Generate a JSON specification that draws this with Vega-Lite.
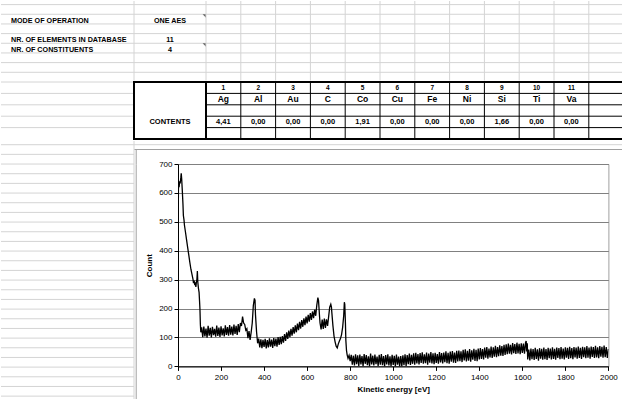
{
  "$schema": "https://vega.github.io/schema/vega-lite/v6.json",
  "padding": 0,
  "background": "white",
  "config": {
    "view": {"stroke": null},
    "font": "Liberation Sans",
    "locale": {"number": {"decimal": ",", "thousands": ".", "grouping": [3], "currency": ["", " €"]}}
  },
  "datasets": {
    "settings": [
      {"row": 2, "labelCol": "A", "valueCol": "B", "label": "MODE OF OPERATION", "value": "ONE AES", "note": true},
      {"row": 4, "labelCol": "A", "valueCol": "B", "label": "NR. OF ELEMENTS IN DATABASE", "value": "11", "note": false},
      {"row": 5, "labelCol": "A", "valueCol": "B", "label": "NR. OF CONSTITUENTS", "value": "4", "note": true}
    ],
    "sheetRows": [
      {"b": 0}, {"b": 1}, {"b": 2}, {"b": 3}, {"b": 4}, {"b": 5}, {"b": 6}, {"b": 7}, {"b": 8}, {"b": 9},
      {"b": 10}, {"b": 11}, {"b": 12}, {"b": 13}, {"b": 14}, {"b": 15}, {"b": 16}, {"b": 17}, {"b": 18}, {"b": 19},
      {"b": 20}, {"b": 21}, {"b": 22}, {"b": 23}, {"b": 24}, {"b": 25}, {"b": 26}
    ],
    "tableRows": [{"r": "num"}, {"r": "sym"}, {"r": "gap1"}, {"r": "val"}, {"r": "gap2"}],
    "columns": [{"k": 1}, {"k": 2}, {"k": 3}, {"k": 4}, {"k": 5}, {"k": 6}, {"k": 7}, {"k": 8}, {"k": 9}, {"k": 10}, {"k": 11}, {"k": 12}],
    "elements": [
      {"n": 1, "sym": "Ag", "v": 4.41},
      {"n": 2, "sym": "Al", "v": 0},
      {"n": 3, "sym": "Au", "v": 0},
      {"n": 4, "sym": "C", "v": 0},
      {"n": 5, "sym": "Co", "v": 1.91},
      {"n": 6, "sym": "Cu", "v": 0},
      {"n": 7, "sym": "Fe", "v": 0},
      {"n": 8, "sym": "Ni", "v": 0},
      {"n": 9, "sym": "Si", "v": 1.66},
      {"n": 10, "sym": "Ti", "v": 0},
      {"n": 11, "sym": "Va", "v": 0}
    ],
    "spectrum": [
      {"e":0,"c":178},{"e":1,"c":455},{"e":2,"c":612},{"e":3,"c":628},{"e":5,"c":620},{"e":8,"c":640},{"e":10,"c":633},{"e":13,"c":652},{"e":15,"c":668},{"e":17,"c":650},
      {"e":20,"c":608},{"e":23,"c":562},{"e":25,"c":522},{"e":28,"c":506},{"e":30,"c":488},{"e":35,"c":463},{"e":40,"c":437},{"e":45,"c":411},{"e":50,"c":386},{"e":55,"c":360},
      {"e":60,"c":336},{"e":65,"c":318},{"e":70,"c":300},{"e":72,"c":288},{"e":75,"c":297},{"e":78,"c":281},{"e":80,"c":291},{"e":83,"c":275},{"e":85,"c":289},{"e":88,"c":302},
      {"e":90,"c":330},{"e":92,"c":292},{"e":95,"c":270},{"e":98,"c":256},{"e":100,"c":228},{"e":102,"c":198},{"e":104,"c":145},{"e":106,"c":118},
      {"e":110,"c":135},{"e":115,"c":101},{"e":120,"c":138},{"e":125,"c":104},{"e":130,"c":131},{"e":135,"c":99},{"e":140,"c":140},{"e":145,"c":106},{"e":150,"c":133},{"e":155,"c":100},
      {"e":160,"c":137},{"e":165,"c":108},{"e":170,"c":130},{"e":175,"c":103},{"e":180,"c":141},{"e":185,"c":105},{"e":190,"c":134},{"e":195,"c":102},{"e":200,"c":139},{"e":205,"c":107},
      {"e":210,"c":132},{"e":215,"c":104},{"e":220,"c":142},{"e":225,"c":109},{"e":230,"c":136},{"e":235,"c":106},{"e":240,"c":143},{"e":245,"c":110},{"e":250,"c":138},{"e":255,"c":107},
      {"e":260,"c":145},{"e":265,"c":112},{"e":270,"c":140},{"e":275,"c":109},{"e":280,"c":146},{"e":285,"c":118},{"e":290,"c":150},{"e":295,"c":140},{"e":300,"c":172},{"e":305,"c":150},
      {"e":310,"c":145},{"e":315,"c":125},{"e":320,"c":130},{"e":325,"c":98},{"e":330,"c":122},{"e":335,"c":92},{"e":340,"c":118},{"e":345,"c":150},{"e":350,"c":210},{"e":355,"c":235},
      {"e":358,"c":228},{"e":360,"c":180},{"e":365,"c":120},{"e":370,"c":80},{"e":375,"c":96},{"e":380,"c":66},{"e":385,"c":94},{"e":390,"c":63},{"e":395,"c":92},{"e":400,"c":67},
      {"e":405,"c":95},{"e":410,"c":62},{"e":415,"c":91},{"e":420,"c":66},{"e":425,"c":97},{"e":430,"c":68},{"e":435,"c":93},{"e":440,"c":64},{"e":445,"c":98},{"e":450,"c":70},
      {"e":455,"c":96},{"e":460,"c":68},{"e":465,"c":101},{"e":470,"c":74},{"e":475,"c":102},{"e":480,"c":77},{"e":485,"c":105},{"e":490,"c":82},{"e":495,"c":112},{"e":500,"c":88},
      {"e":505,"c":118},{"e":510,"c":95},{"e":515,"c":124},{"e":520,"c":101},{"e":525,"c":130},{"e":530,"c":106},{"e":535,"c":136},{"e":540,"c":113},{"e":545,"c":142},{"e":550,"c":118},
      {"e":555,"c":148},{"e":560,"c":125},{"e":565,"c":154},{"e":570,"c":131},{"e":575,"c":160},{"e":580,"c":137},{"e":585,"c":166},{"e":590,"c":143},{"e":595,"c":172},{"e":600,"c":149},
      {"e":605,"c":178},{"e":610,"c":155},{"e":615,"c":184},{"e":620,"c":161},{"e":625,"c":190},{"e":630,"c":167},{"e":635,"c":196},{"e":640,"c":175},{"e":645,"c":212},{"e":650,"c":238},
      {"e":653,"c":228},{"e":655,"c":205},{"e":658,"c":170},{"e":660,"c":150},{"e":665,"c":128},{"e":670,"c":162},{"e":675,"c":130},{"e":680,"c":165},{"e":685,"c":133},{"e":690,"c":163},
      {"e":695,"c":140},{"e":700,"c":172},{"e":705,"c":205},{"e":710,"c":215},{"e":713,"c":205},{"e":715,"c":185},{"e":720,"c":140},{"e":725,"c":105},{"e":730,"c":85},{"e":735,"c":70},
      {"e":740,"c":64},{"e":745,"c":78},{"e":750,"c":88},{"e":755,"c":96},{"e":760,"c":110},{"e":765,"c":135},{"e":770,"c":175},{"e":773,"c":222},{"e":775,"c":215},{"e":778,"c":150},
      {"e":780,"c":90},{"e":783,"c":55},{"e":786,"c":40},{"e":790,"c":28},{"e":795,"c":38},{"e":800,"c":18},
      {"e":805,"c":40},{"e":810,"c":6},{"e":815,"c":37},{"e":820,"c":3},{"e":825,"c":42},{"e":830,"c":8},{"e":835,"c":38},{"e":840,"c":2},{"e":845,"c":41},{"e":850,"c":7},
      {"e":855,"c":36},{"e":860,"c":1},{"e":865,"c":43},{"e":870,"c":9},{"e":875,"c":39},{"e":880,"c":4},{"e":885,"c":35},{"e":890,"c":0},{"e":895,"c":44},{"e":900,"c":7},
      {"e":905,"c":37},{"e":910,"c":3},{"e":915,"c":41},{"e":920,"c":8},{"e":925,"c":34},{"e":930,"c":2},{"e":935,"c":40},{"e":940,"c":6},{"e":945,"c":43},{"e":950,"c":4},
      {"e":955,"c":36},{"e":960,"c":0},{"e":965,"c":39},{"e":970,"c":7},{"e":975,"c":42},{"e":980,"c":3},{"e":985,"c":35},{"e":990,"c":1},{"e":995,"c":40},{"e":1000,"c":5},
      {"e":1005,"c":37},{"e":1010,"c":0},{"e":1015,"c":41},{"e":1020,"c":6},{"e":1025,"c":34},{"e":1030,"c":0},{"e":1035,"c":36},{"e":1040,"c":0},{"e":1045,"c":38},{"e":1050,"c":4},
      {"e":1055,"c":42},{"e":1060,"c":2},{"e":1065,"c":39},{"e":1070,"c":8},{"e":1075,"c":44},{"e":1080,"c":5},{"e":1085,"c":40},{"e":1090,"c":9},{"e":1095,"c":45},{"e":1100,"c":6},
      {"e":1105,"c":47},{"e":1110,"c":10},{"e":1115,"c":43},{"e":1120,"c":7},{"e":1125,"c":46},{"e":1130,"c":12},{"e":1135,"c":49},{"e":1140,"c":9},{"e":1145,"c":42},{"e":1150,"c":11},
      {"e":1155,"c":48},{"e":1160,"c":6},{"e":1165,"c":44},{"e":1170,"c":13},{"e":1175,"c":50},{"e":1180,"c":10},{"e":1185,"c":45},{"e":1190,"c":8},{"e":1195,"c":47},{"e":1200,"c":12},
      {"e":1205,"c":43},{"e":1210,"c":9},{"e":1215,"c":50},{"e":1220,"c":14},{"e":1225,"c":46},{"e":1230,"c":10},{"e":1235,"c":48},{"e":1240,"c":15},{"e":1245,"c":52},{"e":1250,"c":11},
      {"e":1255,"c":47},{"e":1260,"c":9},{"e":1265,"c":51},{"e":1270,"c":16},{"e":1275,"c":53},{"e":1280,"c":13},{"e":1285,"c":48},{"e":1290,"c":12},{"e":1295,"c":54},{"e":1300,"c":17},
      {"e":1305,"c":55},{"e":1310,"c":18},{"e":1315,"c":52},{"e":1320,"c":15},{"e":1325,"c":57},{"e":1330,"c":21},{"e":1335,"c":59},{"e":1340,"c":17},{"e":1345,"c":54},{"e":1350,"c":20},
      {"e":1355,"c":60},{"e":1360,"c":16},{"e":1365,"c":56},{"e":1370,"c":23},{"e":1375,"c":61},{"e":1380,"c":19},{"e":1385,"c":57},{"e":1390,"c":18},{"e":1395,"c":62},{"e":1400,"c":24},
      {"e":1405,"c":63},{"e":1410,"c":26},{"e":1415,"c":60},{"e":1420,"c":24},{"e":1425,"c":65},{"e":1430,"c":30},{"e":1435,"c":67},{"e":1440,"c":27},{"e":1445,"c":62},{"e":1450,"c":31},
      {"e":1455,"c":69},{"e":1460,"c":29},{"e":1465,"c":66},{"e":1470,"c":34},{"e":1475,"c":71},{"e":1480,"c":32},{"e":1485,"c":67},{"e":1490,"c":35},{"e":1495,"c":73},{"e":1500,"c":37},
      {"e":1505,"c":70},{"e":1510,"c":36},{"e":1515,"c":75},{"e":1520,"c":40},{"e":1525,"c":76},{"e":1530,"c":42},{"e":1535,"c":79},{"e":1540,"c":44},{"e":1545,"c":75},{"e":1550,"c":41},
      {"e":1555,"c":81},{"e":1560,"c":46},{"e":1565,"c":77},{"e":1570,"c":43},{"e":1575,"c":82},{"e":1580,"c":45},{"e":1585,"c":78},{"e":1590,"c":42},{"e":1595,"c":80},{"e":1600,"c":47},
      {"e":1605,"c":79},{"e":1610,"c":44},{"e":1615,"c":83},{"e":1618,"c":88},{"e":1620,"c":52},{"e":1623,"c":80},{"e":1625,"c":24},{"e":1630,"c":58},{"e":1635,"c":21},{"e":1640,"c":62},
      {"e":1645,"c":25},{"e":1650,"c":60},{"e":1655,"c":22},{"e":1660,"c":64},{"e":1665,"c":26},{"e":1670,"c":59},{"e":1675,"c":20},{"e":1680,"c":63},{"e":1685,"c":27},{"e":1690,"c":61},
      {"e":1695,"c":23},{"e":1700,"c":65},{"e":1705,"c":25},{"e":1710,"c":60},{"e":1715,"c":22},{"e":1720,"c":64},{"e":1725,"c":28},{"e":1730,"c":62},{"e":1735,"c":24},{"e":1740,"c":66},
      {"e":1745,"c":26},{"e":1750,"c":61},{"e":1755,"c":23},{"e":1760,"c":65},{"e":1765,"c":29},{"e":1770,"c":63},{"e":1775,"c":25},{"e":1780,"c":67},{"e":1785,"c":27},{"e":1790,"c":62},
      {"e":1795,"c":24},{"e":1800,"c":66},{"e":1805,"c":30},{"e":1810,"c":64},{"e":1815,"c":26},{"e":1820,"c":68},{"e":1825,"c":28},{"e":1830,"c":63},{"e":1835,"c":25},{"e":1840,"c":67},
      {"e":1845,"c":31},{"e":1850,"c":65},{"e":1855,"c":27},{"e":1860,"c":69},{"e":1865,"c":29},{"e":1870,"c":64},{"e":1875,"c":26},{"e":1880,"c":68},{"e":1885,"c":32},{"e":1890,"c":66},
      {"e":1895,"c":28},{"e":1900,"c":70},{"e":1905,"c":30},{"e":1910,"c":65},{"e":1915,"c":27},{"e":1920,"c":69},{"e":1925,"c":33},{"e":1930,"c":67},{"e":1935,"c":29},{"e":1940,"c":71},
      {"e":1945,"c":31},{"e":1950,"c":66},{"e":1955,"c":28},{"e":1960,"c":70},{"e":1965,"c":34},{"e":1970,"c":68},{"e":1975,"c":30},{"e":1980,"c":72},{"e":1985,"c":32},{"e":1990,"c":67},
      {"e":1995,"c":29},{"e":2000,"c":60}
    ]
  },
  "spacing": 0,
  "bounds": "full",
  "vconcat": [
    {
      "spacing": 0,
      "bounds": "flush",
      "hconcat": [
        {
          "width": 133,
          "height": 79.5,
          "layer": [
            {
              "data": {"name": "sheetRows"},
              "transform": [{"filter": "datum.b <= 7"}],
              "mark": {"type": "rule", "color": "#d4d4d4"},
              "encoding": {
                "y": {"field": "b", "type": "quantitative", "scale": {"domain": [-0.372, 7.849], "reverse": true, "nice": false, "zero": false}, "axis": null}
              }
            },
            {
              "data": {"values": [{"col": "A"}]},
              "mark": {"type": "rule", "color": "#d4d4d4"},
              "encoding": {
                "x": {"field": "col", "type": "nominal", "bandPosition": 1, "scale": {"type": "band", "domain": ["A"], "paddingInner": 0, "paddingOuter": 0}, "axis": null}
              }
            },
            {
              "data": {"name": "settings"},
              "mark": {"type": "text", "align": "left", "baseline": "alphabetic", "dx": 10, "dy": -0.8, "fontSize": 7.2, "fontWeight": "bold", "color": "black"},
              "encoding": {
                "x": {"field": "labelCol", "type": "nominal", "bandPosition": 0, "scale": {"type": "band", "domain": ["A"], "paddingInner": 0, "paddingOuter": 0}, "axis": null},
                "y": {"field": "row", "type": "quantitative", "scale": {"domain": [-0.372, 7.849], "reverse": true, "nice": false, "zero": false}, "axis": null},
                "text": {"field": "label"}
              }
            }
          ]
        },
        {
          "width": 72,
          "height": 79.5,
          "layer": [
            {
              "data": {"name": "sheetRows"},
              "transform": [{"filter": "datum.b <= 7"}],
              "mark": {"type": "rule", "color": "#d4d4d4"},
              "encoding": {
                "y": {"field": "b", "type": "quantitative", "scale": {"domain": [-0.372, 7.849], "reverse": true, "nice": false, "zero": false}, "axis": null}
              }
            },
            {
              "data": {"name": "settings"},
              "mark": {"type": "text", "baseline": "alphabetic", "dy": -0.8, "fontSize": 7.2, "fontWeight": "bold", "color": "black"},
              "encoding": {
                "y": {"field": "row", "type": "quantitative", "scale": {"domain": [-0.372, 7.849], "reverse": true, "nice": false, "zero": false}, "axis": null},
                "text": {"field": "value"}
              }
            },
            {
              "data": {"name": "settings"},
              "transform": [{"filter": "datum.note"}],
              "mark": {"type": "point", "shape": "M-0.7,-2L0,-2L0,-1.3Z", "size": 94, "filled": true, "color": "#666666", "opacity": 1, "strokeWidth": 0},
              "encoding": {
                "x": {"field": "valueCol", "type": "nominal", "bandPosition": 1, "scale": {"type": "band", "domain": ["B"], "paddingInner": 0, "paddingOuter": 0}, "axis": null},
                "y": {"field": "row", "type": "quantitative", "scale": {"domain": [-0.372, 7.849], "reverse": true, "nice": false, "zero": false}, "axis": null}
              }
            }
          ]
        },
        {
          "width": 417.6,
          "height": 79.5,
          "layer": [
            {
              "data": {"name": "sheetRows"},
              "transform": [{"filter": "datum.b <= 7"}],
              "mark": {"type": "rule", "color": "#d4d4d4"},
              "encoding": {
                "y": {"field": "b", "type": "quantitative", "scale": {"domain": [-0.372, 7.849], "reverse": true, "nice": false, "zero": false}, "axis": null}
              }
            },
            {
              "data": {"name": "columns"},
              "mark": {"type": "rule", "color": "#d4d4d4"},
              "encoding": {
                "x": {"field": "k", "type": "ordinal", "bandPosition": 0, "scale": {"type": "band", "domain": [1,2,3,4,5,6,7,8,9,10,11,12], "paddingInner": 0, "paddingOuter": 0}, "axis": null}
              }
            }
          ]
        }
      ]
    },
    {
      "spacing": 0,
      "bounds": "flush",
      "hconcat": [
        {
          "width": 133,
          "height": 57,
          "layer": [
            {
              "data": {"name": "tableRows"},
              "mark": {"type": "rule", "color": "#d4d4d4"},
              "encoding": {
                "y": {"field": "r", "type": "ordinal", "bandPosition": 0, "scale": {"type": "band", "domain": ["num", "sym", "gap1", "val", "gap2"], "paddingInner": 0, "paddingOuter": 0}, "axis": null}
              }
            },
            {
              "data": {"values": [{"col": "A"}]},
              "mark": {"type": "rule", "color": "#d4d4d4"},
              "encoding": {
                "x": {"field": "col", "type": "nominal", "bandPosition": 1, "scale": {"type": "band", "domain": ["A"], "paddingInner": 0, "paddingOuter": 0}, "axis": null}
              }
            }
          ]
        },
        {
          "width": 72,
          "height": 57,
          "view": {"stroke": "black", "strokeWidth": 2},
          "data": {"values": [{"r": "val", "label": "CONTENTS"}]},
          "mark": {"type": "text", "baseline": "middle", "fontSize": 7.5, "fontWeight": "bold", "color": "black"},
          "encoding": {
            "y": {"field": "r", "type": "ordinal", "scale": {"type": "band", "domain": ["num", "sym", "gap1", "val", "gap2"], "paddingInner": 0, "paddingOuter": 0}, "axis": null},
            "text": {"field": "label"}
          }
        },
        {
          "width": 417.6,
          "height": 57,
          "layer": [
            {
              "data": {"name": "columns"},
              "mark": {"type": "rule", "color": "black", "strokeWidth": 1},
              "encoding": {
                "x": {"field": "k", "type": "ordinal", "bandPosition": 0, "scale": {"type": "band", "domain": [1,2,3,4,5,6,7,8,9,10,11,12], "paddingInner": 0, "paddingOuter": 0}, "axis": null}
              }
            },
            {
              "data": {"name": "tableRows"},
              "transform": [{"filter": "datum.r !== 'num'"}],
              "mark": {"type": "rule", "color": "black", "strokeWidth": 1},
              "encoding": {
                "y": {"field": "r", "type": "ordinal", "bandPosition": 0, "scale": {"type": "band", "domain": ["num", "sym", "gap1", "val", "gap2"], "paddingInner": 0, "paddingOuter": 0}, "axis": null}
              }
            },
            {
              "data": {"name": "tableRows"},
              "transform": [{"filter": "datum.r === 'num'"}],
              "mark": {"type": "rule", "color": "black", "strokeWidth": 2},
              "encoding": {
                "y": {"field": "r", "type": "ordinal", "bandPosition": 0, "scale": {"type": "band", "domain": ["num", "sym", "gap1", "val", "gap2"], "paddingInner": 0, "paddingOuter": 0}, "axis": null}
              }
            },
            {
              "data": {"name": "tableRows"},
              "transform": [{"filter": "datum.r === 'gap2'"}],
              "mark": {"type": "rule", "color": "black", "strokeWidth": 2},
              "encoding": {
                "y": {"field": "r", "type": "ordinal", "bandPosition": 1, "scale": {"type": "band", "domain": ["num", "sym", "gap1", "val", "gap2"], "paddingInner": 0, "paddingOuter": 0}, "axis": null}
              }
            },
            {
              "data": {"name": "elements"},
              "transform": [{"calculate": "'num'", "as": "r"}],
              "mark": {"type": "text", "baseline": "middle", "fontSize": 6.5, "fontWeight": "bold", "color": "black"},
              "encoding": {
                "x": {"field": "n", "type": "ordinal", "scale": {"type": "band", "domain": [1,2,3,4,5,6,7,8,9,10,11,12], "paddingInner": 0, "paddingOuter": 0}, "axis": null},
                "y": {"field": "r", "type": "ordinal", "scale": {"type": "band", "domain": ["num", "sym", "gap1", "val", "gap2"], "paddingInner": 0, "paddingOuter": 0}, "axis": null},
                "text": {"field": "n"}
              }
            },
            {
              "data": {"name": "elements"},
              "transform": [{"calculate": "'sym'", "as": "r"}],
              "mark": {"type": "text", "baseline": "middle", "fontSize": 8.5, "fontWeight": "bold", "color": "black"},
              "encoding": {
                "x": {"field": "n", "type": "ordinal", "scale": {"type": "band", "domain": [1,2,3,4,5,6,7,8,9,10,11,12], "paddingInner": 0, "paddingOuter": 0}, "axis": null},
                "y": {"field": "r", "type": "ordinal", "scale": {"type": "band", "domain": ["num", "sym", "gap1", "val", "gap2"], "paddingInner": 0, "paddingOuter": 0}, "axis": null},
                "text": {"field": "sym"}
              }
            },
            {
              "data": {"name": "elements"},
              "transform": [{"calculate": "'val'", "as": "r"}],
              "mark": {"type": "text", "baseline": "middle", "fontSize": 7.5, "fontWeight": "bold", "color": "black"},
              "encoding": {
                "x": {"field": "n", "type": "ordinal", "scale": {"type": "band", "domain": [1,2,3,4,5,6,7,8,9,10,11,12], "paddingInner": 0, "paddingOuter": 0}, "axis": null},
                "y": {"field": "r", "type": "ordinal", "scale": {"type": "band", "domain": ["num", "sym", "gap1", "val", "gap2"], "paddingInner": 0, "paddingOuter": 0}, "axis": null},
                "text": {"field": "v", "type": "quantitative", "format": ".2f"}
              }
            }
          ]
        }
      ]
    },
    {
      "spacing": 0,
      "bounds": "flush",
      "hconcat": [
        {
          "width": 133,
          "height": 259,
          "layer": [
            {
              "data": {"name": "sheetRows"},
              "mark": {"type": "rule", "color": "#d4d4d4"},
              "encoding": {
                "y": {"field": "b", "type": "quantitative", "scale": {"domain": [-0.383, 26.4], "reverse": true, "nice": false, "zero": false}, "axis": null}
              }
            },
            {
              "data": {"values": [{"col": "A"}]},
              "mark": {"type": "rule", "color": "#d4d4d4"},
              "encoding": {
                "x": {"field": "col", "type": "nominal", "bandPosition": 1, "scale": {"type": "band", "domain": ["A"], "paddingInner": 0, "paddingOuter": 0}, "axis": null}
              }
            }
          ]
        },
        {
          "spacing": 0,
          "bounds": "flush",
          "vconcat": [
            {
              "width": 489,
              "height": 8,
              "data": {"name": "sheetRows"},
              "transform": [{"filter": "datum.b < 0.5"}],
              "mark": {"type": "rule", "color": "#d4d4d4"},
              "encoding": {
                "y": {"field": "b", "type": "quantitative", "scale": {"domain": [-0.383, 0.445], "reverse": true, "nice": false, "zero": false}, "axis": null}
              }
            },
            {
              "spacing": 0,
              "bounds": "flush",
              "vconcat": [
                {
                  "width": 489,
                  "height": 15,
                  "data": {"values": []},
                  "mark": {"type": "rule"},
                  "encoding": {
                    "x": {"field": "a", "type": "quantitative", "scale": {"domain": [0, 1]}, "axis": {"orient": "top", "domainColor": "#a0a0a0", "ticks": false, "labels": false, "grid": false, "title": null}},
                    "y": {"field": "b", "type": "quantitative", "scale": {"domain": [0, 1]}, "axis": {"orient": "left", "offset": -1.7, "domainColor": "#a0a0a0", "ticks": false, "labels": false, "grid": false, "title": null}}
                  }
                },
                {
                  "spacing": 0,
                  "bounds": "flush",
                  "hconcat": [
                    {
                      "width": 44,
                      "height": 236,
                      "data": {"values": []},
                      "mark": {"type": "rule"},
                      "encoding": {
                        "y": {"field": "b", "type": "quantitative", "scale": {"domain": [0, 1]}, "axis": {"orient": "left", "offset": -1.7, "domainColor": "#a0a0a0", "ticks": false, "labels": false, "grid": false, "title": null}}
                      }
                    },
                    {
                      "width": 430.4,
                      "height": 202.4,
                      "view": {"stroke": "#a0a0a0"},
                      "data": {"name": "spectrum"},
                      "mark": {"type": "line", "color": "black", "strokeWidth": 1.3, "clip": true},
                      "encoding": {
                        "x": {
                          "field": "e", "type": "quantitative",
                          "scale": {"domain": [0, 2000], "nice": false, "zero": false},
                          "axis": {
                            "values": [0, 200, 400, 600, 800, 1000, 1200, 1400, 1600, 1800, 2000],
                            "format": "d", "grid": false, "labelFlush": false,
                            "domainColor": "black", "tickColor": "black", "tickSize": 4,
                            "labelFont": "Liberation Sans", "labelFontSize": 8, "labelColor": "black", "labelPadding": 3,
                            "title": "Kinetic energy [eV]", "titleFont": "Liberation Sans", "titleFontSize": 8, "titleFontWeight": "bold", "titleColor": "black", "titlePadding": 4
                          }
                        },
                        "y": {
                          "field": "c", "type": "quantitative",
                          "scale": {"domain": [0, 700], "nice": false},
                          "axis": {
                            "values": [0, 100, 200, 300, 400, 500, 600, 700],
                            "format": "d", "grid": true, "gridColor": "#808080", "gridOpacity": 1,
                            "domainColor": "black", "tickColor": "black", "tickSize": 4,
                            "labelFont": "Liberation Sans", "labelFontSize": 8, "labelColor": "black", "labelPadding": 2,
                            "title": "Count", "titleFont": "Liberation Sans", "titleFontSize": 8, "titleFontWeight": "bold", "titleColor": "black", "titlePadding": 5
                          }
                        }
                      }
                    }
                  ]
                }
              ]
            }
          ]
        }
      ]
    }
  ]
}
